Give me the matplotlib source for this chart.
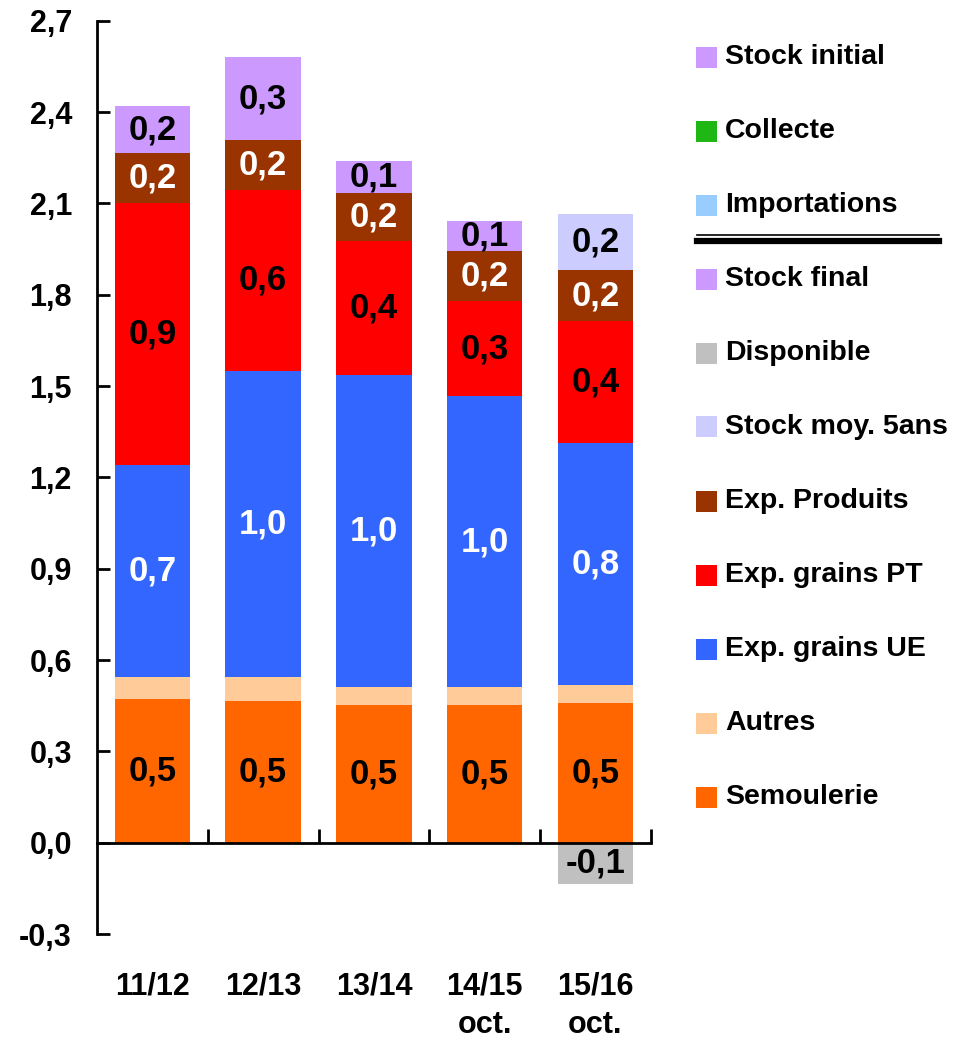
import numpy as np
import matplotlib.pyplot as plt
from matplotlib.patches import Rectangle
from matplotlib.lines import Line2D

plt.rcParams['font.family'] = ['Liberation Sans', 'DejaVu Sans']
plt.rcParams['font.weight'] = 'bold'

# Campagnes et postes du bilan (Mt)
campagnes = ['11/12', '12/13', '13/14', '14/15\noct.', '15/16\noct.']
semoulerie = [0.473, 0.467, 0.453, 0.453, 0.460]
autres = [0.073, 0.079, 0.060, 0.060, 0.059]
exp_grains_ue = [0.696, 1.005, 1.025, 0.953, 0.795]
exp_grains_pt = [0.861, 0.592, 0.440, 0.315, 0.401]
exp_produits = [0.164, 0.164, 0.158, 0.164, 0.165]
stock_final = [0.152, 0.273, 0.102, 0.096, 0.0]
stock_moy_5ans = [0.0, 0.0, 0.0, 0.0, 0.187]
disponible = [0.0, 0.0, 0.0, 0.0, -0.135]

yticks = [-0.3, 0.0, 0.3, 0.6, 0.9, 1.2, 1.5, 1.8, 2.1, 2.4, 2.7]

couleurs = {
    'Stock initial': '#CC99FF',
    'Collecte': '#1FB714',
    'Importations': '#99CCFF',
    'Stock final': '#CC99FF',
    'Disponible': '#C0C0C0',
    'Stock moy. 5ans': '#CCCCFF',
    'Exp. Produits': '#993300',
    'Exp. grains PT': '#FF0000',
    'Exp. grains UE': '#3366FF',
    'Autres': '#FFCC99',
    'Semoulerie': '#FF6600',
}


def fmt(v):
    return f"{v:.1f}".replace('.', ',')


fig = plt.figure(figsize=(9.6, 10.42), dpi=100)
ax = fig.add_axes([0.101, 0.1036, 0.577, 0.8764])

x = np.arange(len(campagnes))
w = 0.68

# empilement des emplois, du bas vers le haut
series = [
    (semoulerie, 'Semoulerie', 'black', True),
    (autres, 'Autres', 'black', False),
    (exp_grains_ue, 'Exp. grains UE', 'white', True),
    (exp_grains_pt, 'Exp. grains PT', 'black', True),
    (exp_produits, 'Exp. Produits', 'white', True),
    (stock_final, 'Stock final', 'black', True),
    (stock_moy_5ans, 'Stock moy. 5ans', 'black', True),
]
bas = np.zeros(len(campagnes))
for vals, nom, tc, lab in series:
    vals = np.array(vals)
    bars = ax.bar(x, vals, w, bottom=bas, color=couleurs[nom], linewidth=0)
    if lab:
        ax.bar_label(bars, labels=[fmt(v) if v != 0 else '' for v in vals],
                     label_type='center', color=tc, fontsize=25, fontweight='bold')
    bas += vals

bars = ax.bar(x, disponible, w, color=couleurs['Disponible'], linewidth=0)
ax.bar_label(bars, labels=[fmt(v) if v != 0 else '' for v in disponible],
             label_type='center', color='black', fontsize=25, fontweight='bold')

ax.set_xlim(-0.5, len(campagnes) - 0.5)
ax.set_ylim(-0.3, 2.7)
ax.set_yticks(yticks)
ax.set_yticklabels([fmt(v) for v in yticks])

ax.spines['top'].set_visible(False)
ax.spines['right'].set_visible(False)
ax.spines['bottom'].set_position(('data', 0))
ax.spines['bottom'].set_linewidth(2)
ax.spines['left'].set_linewidth(2)

ax.set_xticks(x)
ax.set_xticklabels(campagnes, linespacing=1.35)
ax.set_xticks(np.arange(len(campagnes)) + 0.5, minor=True)
ax.tick_params(axis='x', which='major', length=0, pad=93, labelsize=22)
ax.tick_params(axis='x', which='minor', direction='in', length=10, width=2)
ax.tick_params(axis='y', direction='in', length=9, width=2, pad=18, labelsize=22)

# légende dessinée à droite, en deux blocs séparés par un double trait
W, H = 960, 1042
ressources = ['Stock initial', 'Collecte', 'Importations']
emplois = ['Stock final', 'Disponible', 'Stock moy. 5ans', 'Exp. Produits',
           'Exp. grains PT', 'Exp. grains UE', 'Autres', 'Semoulerie']
pas = 74
entrees = [(nom, 57 + i * pas) for i, nom in enumerate(ressources)]
entrees += [(nom, 279 + i * pas) for i, nom in enumerate(emplois)]
for nom, yp in entrees:
    fig.patches.append(Rectangle((696 / W, 1 - (yp + 10.5) / H), 21 / W, 21 / H,
                                 transform=fig.transFigure, color=couleurs[nom], lw=0))
    fig.text(725 / W, 1 - yp / H, nom, fontsize=20.5, fontweight='bold', va='center')

fig.lines.append(Line2D([697 / W, 939 / W], [1 - 234.5 / H] * 2,
                        transform=fig.transFigure, color='black', lw=1.2))
fig.lines.append(Line2D([697 / W, 939 / W], [1 - 240.5 / H] * 2,
                        transform=fig.transFigure, color='black', lw=4.5))

fig.savefig('out.png', dpi=100)
